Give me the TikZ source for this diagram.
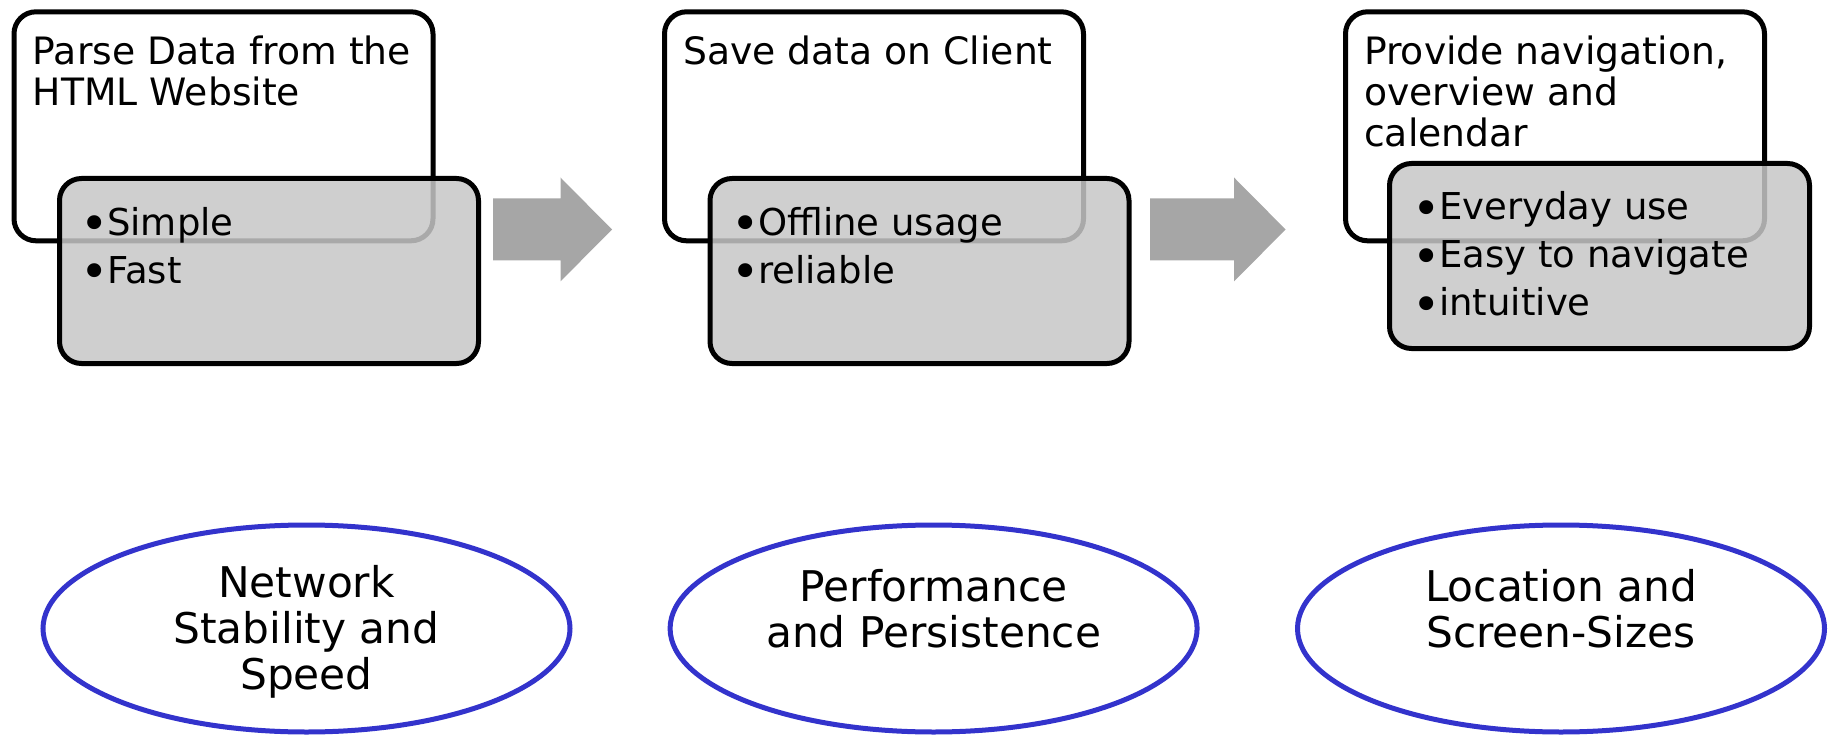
\documentclass[tikz,border=0pt]{standalone}
\usepackage{fontspec}
\setmainfont{DejaVu Sans}
\usetikzlibrary{shapes.geometric,calc}
\definecolor{boxgray}{RGB}{199,199,199}
\definecolor{arrowgray}{RGB}{166,166,166}
\definecolor{ellblue}{RGB}{51,51,204}
\newcommand\itm{\makebox[25pt][l]{\hspace{-1.5pt}\raisebox{-5.5pt}[0pt][0pt]{\makebox[0pt][l]{\fontsize{48pt}{48pt}\selectfont\textbullet}}}}
% block arrow: shaft from #1 to the head, head base at x=#2, tip at x=#3
\newcommand\blockarrow[4]{%
  \fill[arrowgray] (#1,198.5) -- (#2,198.5) -- (#2,177.5) -- (#3,229.5)
    -- (#2,281.4) -- (#2,260.4) -- (#1,260.4) -- cycle;
  \coordinate (#4) at (#3,229.5);}
\tikzset{
  whitebox/.style={draw=black, line width=5pt, rounded corners=22pt, fill=white,
    minimum width=419pt, minimum height=229pt, inner sep=0pt, outer sep=0pt,
    anchor=north west},
  greybox/.style={draw=black, line width=5pt, rounded corners=22pt, fill=boxgray,
    fill opacity=0.85, minimum width=419pt, minimum height=185pt, inner sep=0pt,
    outer sep=0pt, anchor=north west},
  headtext/.style={font=\fontsize{37.7pt}{41pt}\selectfont, align=left, inner sep=0pt,
    anchor=base west},
  listtext/.style={font=\fontsize{37pt}{48pt}\selectfont, align=left, inner sep=0pt,
    anchor=base west},
  topic/.style={ellipse, draw=ellblue, line width=5pt, minimum width=527pt,
    minimum height=207pt, inner sep=0pt},
  topictext/.style={font=\fontsize{42.3pt}{46pt}\selectfont, align=center, inner sep=0pt}
}
\begin{document}
\begin{tikzpicture}[x=1pt, y=-1pt]
  \useasboundingbox (0,0) rectangle (1831,735);

  % step 1
  \node[whitebox] (w1) at (14,11.8) {};
  \node[greybox] (g1) at (59.5,178.5) {};
  \node[headtext] (t1) at (32.7,106) {Parse Data from the\\HTML Website};
  \node[listtext] (l1) at (82,283.5) {\itm Simple\\\itm Fast};

  % step 2
  \node[whitebox] (w2) at (664.5,11.8) {};
  \node[greybox] (g2) at (710,178.5) {};
  \node[headtext] (t2) at (683,65) {Save data on Client};
  \node[listtext] (l2) at (733,283.5) {\itm Offline usage\\\itm reliable};

  % step 3
  \node[whitebox] (w3) at (1345.5,11.8) {};
  \node[greybox, minimum width=420pt] (g3) at (1389.5,163.5) {};
  \node[headtext] (t3) at (1364,147) {Provide navigation,\\overview and\\calendar};
  \node[listtext] (l3) at (1414,316) {\itm Everyday use\\\itm Easy to navigate\\\itm intuitive};

  % block arrows between the steps
  \blockarrow{493}{560.5}{612}{a1}
  \blockarrow{1150}{1234}{1285.6}{a2}

  % concerns
  \node[topic] (e1) at (306.5,628.5) {};
  \node[topictext] (c1) at ($(e1)+(0,3.4)$) {Network\\Stability and\\Speed};
  \node[topic] (e2) at (933.6,628.5) {};
  \node[topictext] (c2) at ($(e2)+(0,-19.5)$) {Performance\\and Persistence};
  \node[topic] (e3) at (1561,628.5) {};
  \node[topictext] (c3) at ($(e3)+(0,-19.5)$) {Location and\\Screen-Sizes};
\end{tikzpicture}
\end{document}
